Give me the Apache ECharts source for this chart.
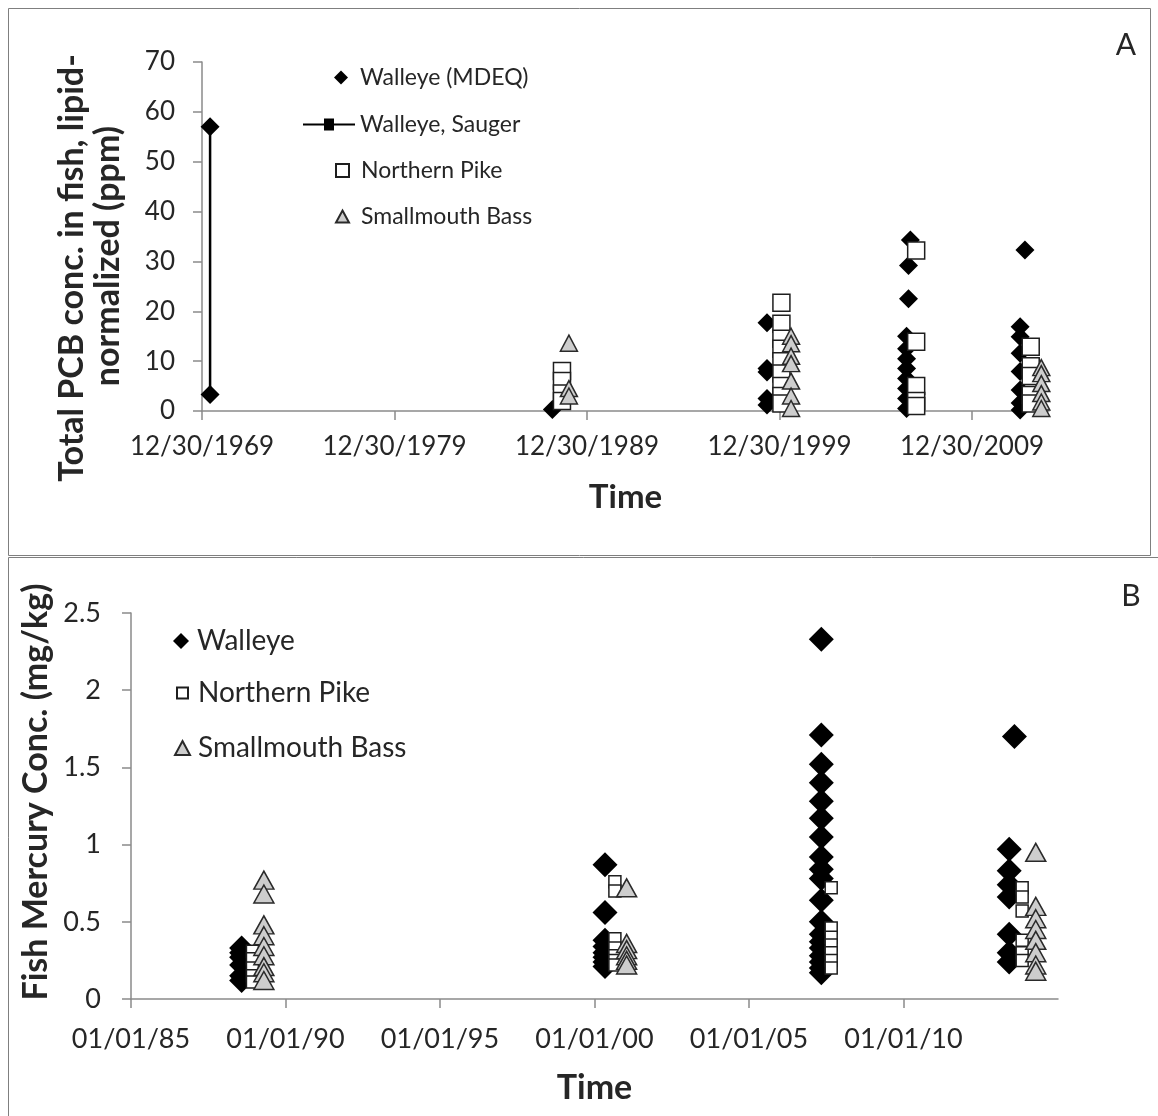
<!DOCTYPE html>
<html><head><meta charset="utf-8">
<script src="https://cdn.jsdelivr.net/npm/echarts@6/dist/echarts.min.js"></script>
<style>html,body{margin:0;padding:0;background:#fff}#c{width:1158px;height:1116px}</style>
</head><body><div id="c"></div>
<script>
// ---------- Panel A: total PCB (lipid-normalized, ppm) ----------
const pcbXTicks = [1970, 1980, 1990, 2000, 2010];
const pcbWalleyeMDEQ = [
  [1988.2, 0.3],
  [1999.35, 17.7], [1999.35, 8.5], [1999.35, 7.8], [1999.35, 2.5], [1999.35, 1.2],
  [2006.8, 34.3], [2006.7, 29.2], [2006.7, 22.5], [2006.6, 15.0], [2006.6, 12.5], [2006.6, 10.5],
  [2006.6, 8.5], [2006.6, 6.5], [2006.6, 4.5], [2006.6, 2.5], [2006.6, 0.5],
  [2012.75, 32.3], [2012.5, 16.9], [2012.5, 14.9], [2012.5, 11.6], [2012.5, 7.9], [2012.5, 4.2], [2012.5, 1.6], [2012.5, 0.2]
];
const pcbWalleyeSauger = [[1970.42, 57.0], [1970.42, 3.3]];
const pcbNorthernPike = [
  [1988.7, 8.0], [1988.7, 6.0], [1988.7, 3.5], [1988.7, 2.0],
  [2000.1, 21.7], [2000.1, 17.5], [2000.1, 14.5], [2000.1, 12.5], [2000.1, 10.0], [2000.1, 7.5], [2000.1, 5.0], [2000.1, 3.0], [2000.1, 1.5],
  [2007.1, 32.2], [2007.1, 13.9], [2007.1, 5.0], [2007.1, 2.0], [2007.1, 1.0],
  [2013.05, 12.9], [2013.05, 9.0], [2013.05, 7.0], [2013.05, 3.2], [2013.05, 1.5]
];
const pcbSmallmouthBass = [
  [1989.06, 13.6], [1989.06, 4.5], [1989.06, 3.0],
  [2000.6, 15.0], [2000.6, 13.5], [2000.6, 11.0], [2000.6, 9.5], [2000.6, 6.0], [2000.6, 3.0], [2000.6, 0.5],
  [2013.6, 8.7], [2013.6, 7.5], [2013.6, 5.5], [2013.6, 3.5], [2013.6, 1.8], [2013.6, 0.5]
];

// ---------- Panel B: fish mercury (mg/kg) ----------
const hgXTicks = [1985, 1990, 1995, 2000, 2005, 2010];
const hgWalleye = [
  [1988.58, 0.33], [1988.58, 0.30], [1988.58, 0.27], [1988.58, 0.22], [1988.58, 0.15], [1988.58, 0.12],
  [2000.34, 0.87], [2000.34, 0.56], [2000.34, 0.38], [2000.34, 0.34], [2000.34, 0.30], [2000.34, 0.27], [2000.34, 0.24], [2000.34, 0.21],
  [2007.34, 2.33], [2007.34, 1.71], [2007.34, 1.52], [2007.34, 1.40], [2007.34, 1.28], [2007.34, 1.17], [2007.34, 1.05],
  [2007.34, 0.92], [2007.34, 0.84], [2007.34, 0.78], [2007.34, 0.64], [2007.34, 0.50], [2007.34, 0.42], [2007.34, 0.37],
  [2007.34, 0.33], [2007.34, 0.28], [2007.34, 0.24], [2007.34, 0.20], [2007.34, 0.17],
  [2013.59, 1.70], [2013.42, 0.97], [2013.42, 0.83], [2013.42, 0.74], [2013.42, 0.66], [2013.42, 0.42], [2013.42, 0.30], [2013.42, 0.24]
];
const hgNorthernPike = [
  [1988.93, 0.31], [1988.93, 0.26], [1988.93, 0.20], [1988.93, 0.15], [1988.93, 0.11],
  [2000.66, 0.76], [2000.66, 0.70], [2000.66, 0.39], [2000.66, 0.33], [2000.66, 0.28], [2000.66, 0.25], [2000.66, 0.22],
  [2007.66, 0.72], [2007.66, 0.46], [2007.66, 0.40], [2007.66, 0.35], [2007.66, 0.30], [2007.66, 0.25], [2007.66, 0.20],
  [2013.84, 0.72], [2013.84, 0.66], [2013.84, 0.57], [2013.84, 0.38], [2013.84, 0.30], [2013.84, 0.25]
];
const hgSmallmouthBass = [
  [1989.3, 0.77], [1989.3, 0.68], [1989.3, 0.48], [1989.3, 0.41], [1989.3, 0.34], [1989.3, 0.28], [1989.3, 0.21], [1989.3, 0.17], [1989.3, 0.12],
  [2001.04, 0.72], [2001.04, 0.36], [2001.04, 0.32], [2001.04, 0.28], [2001.04, 0.25], [2001.04, 0.22],
  [2014.28, 0.95], [2014.28, 0.60], [2014.28, 0.52], [2014.28, 0.45], [2014.28, 0.38], [2014.28, 0.30], [2014.28, 0.22], [2014.28, 0.18]
];

const FONT = 'Lato';
const TXT = '#262626';
const AX = '#8a8a8a';

const chart = echarts.init(document.getElementById('c'));

function axisCommon() {
  return {
    axisLine: { show: true, onZero: false, lineStyle: { color: AX, width: 1.5 } },
    axisTick: { show: true, inside: false, length: 9, lineStyle: { color: AX, width: 1.5 } },
    splitLine: { show: false }
  };
}

const diamondBlack = { color: '#000', opacity: 1 };
const squareStyle = { color: '#fff', borderColor: '#1e1e1e', borderWidth: 1.5, opacity: 1 };
const triStyle = { color: '#cdcdcd', borderColor: '#2a2a2a', borderWidth: 1.5, opacity: 1 };
const lineIcon = 'path://M0,5H21V0H31V5H52V7H31V12H21V7H0Z';

function leg(name, left, top, w, h, fs, padLeft, icon) {
  const d = { name: name };
  if (icon) d.icon = icon;
  return {
    data: [d], left: left, top: top, padding: 0, itemWidth: w, itemHeight: h,
    selectedMode: false,
    textStyle: { fontFamily: FONT, fontSize: fs, color: TXT, padding: [0, 0, 0, padLeft] }
  };
}

const option = {
  animation: false,
  backgroundColor: '#fff',
  textStyle: { fontFamily: FONT },
  grid: [
    { left: 202, top: 62, width: 847, height: 349 },
    { left: 131, top: 613, width: 927, height: 386 }
  ],
  xAxis: [
    Object.assign(axisCommon(), {
      type: 'value', gridIndex: 0, min: 1970, max: 2014,
      axisTick: { show: true, length: 9, customValues: pcbXTicks, lineStyle: { color: AX, width: 1.5 } },
      axisLabel: { customValues: pcbXTicks, fontSize: 26, color: TXT, fontFamily: FONT, margin: 23,
        formatter: v => '12/30/' + (v - 1) },
      name: 'Time', nameLocation: 'middle', nameGap: 70,
      nameTextStyle: { fontSize: 33, fontWeight: 'bold', color: TXT, fontFamily: FONT }
    }),
    Object.assign(axisCommon(), {
      type: 'value', gridIndex: 1, min: 1985, max: 2015, interval: 5,
      axisTick: { show: true, length: 9, customValues: hgXTicks, lineStyle: { color: AX, width: 1.5 } },
      axisLabel: { customValues: hgXTicks, fontSize: 27, color: TXT, fontFamily: FONT, margin: 27,
        formatter: v => '01/01/' + String(v % 100).padStart(2, '0') },
      name: 'Time', nameLocation: 'middle', nameGap: 72,
      nameTextStyle: { fontSize: 34, fontWeight: 'bold', color: TXT, fontFamily: FONT }
    })
  ],
  yAxis: [
    Object.assign(axisCommon(), {
      type: 'value', gridIndex: 0, min: 0, max: 70, interval: 10,
      axisLabel: { fontSize: 26, color: TXT, fontFamily: FONT, margin: 27 }
    }),
    Object.assign(axisCommon(), {
      type: 'value', gridIndex: 1, min: 0, max: 2.5, interval: 0.5,
      axisLabel: { fontSize: 27, color: TXT, fontFamily: FONT, margin: 30 }
    })
  ],
  legend: [
    leg('Walleye (MDEQ)', 334, 66, 14, 14, 23, 7),
    leg('Walleye, Sauger', 303, 113, 52, 12, 23, 0, lineIcon),
    leg('Northern Pike', 335, 159, 13, 13, 23, 7),
    leg('Smallmouth Bass', 335, 205, 13, 12, 23, 7),
    leg('Walleye', 173, 627, 16, 16, 28, 3),
    leg('Northern Pike ', 176, 679, 11, 11, 28, 5),
    leg('Smallmouth Bass ', 174, 734, 15, 14, 28, 3)
  ],
  series: [
    { name: 'Walleye (MDEQ)', type: 'scatter', xAxisIndex: 0, yAxisIndex: 0, data: pcbWalleyeMDEQ,
      symbol: 'diamond', symbolSize: 19, itemStyle: diamondBlack },
    { name: 'Walleye, Sauger', type: 'line', xAxisIndex: 0, yAxisIndex: 0, data: pcbWalleyeSauger,
      symbol: 'diamond', symbolSize: 19, showAllSymbol: true,
      lineStyle: { color: '#000', width: 2.5 }, itemStyle: { color: '#000', opacity: 1 } },
    { name: 'Northern Pike', type: 'scatter', xAxisIndex: 0, yAxisIndex: 0, data: pcbNorthernPike,
      symbol: 'rect', symbolSize: 17, itemStyle: squareStyle },
    { name: 'Smallmouth Bass', type: 'scatter', xAxisIndex: 0, yAxisIndex: 0, data: pcbSmallmouthBass,
      symbol: 'triangle', symbolSize: [17, 16], itemStyle: triStyle },
    { name: 'Walleye', type: 'scatter', xAxisIndex: 1, yAxisIndex: 1, data: hgWalleye,
      symbol: 'diamond', symbolSize: 25, itemStyle: diamondBlack },
    { name: 'Northern Pike ', type: 'scatter', xAxisIndex: 1, yAxisIndex: 1, data: hgNorthernPike,
      symbol: 'rect', symbolSize: 12, itemStyle: squareStyle },
    { name: 'Smallmouth Bass ', type: 'scatter', xAxisIndex: 1, yAxisIndex: 1, data: hgSmallmouthBass,
      symbol: 'triangle', symbolSize: [20, 18], itemStyle: triStyle }
  ],
  graphic: [
    { type: 'rect', shape: { x: 8.5, y: 8.5, width: 1142, height: 547 }, silent: true,
      style: { fill: null, stroke: '#7f7f7f', lineWidth: 1 } },
    { type: 'rect', shape: { x: 8.5, y: 557.5, width: 1200, height: 600 }, silent: true,
      style: { fill: null, stroke: '#7f7f7f', lineWidth: 1 } },
    { type: 'text', x: 1126, y: 45, silent: true,
      style: { text: 'A', font: '30px Lato', fill: TXT, textAlign: 'center', textVerticalAlign: 'middle' } },
    { type: 'text', x: 1131, y: 596, silent: true,
      style: { text: 'B', font: '30px Lato', fill: TXT, textAlign: 'center', textVerticalAlign: 'middle' } },
    { type: 'text', x: 72, y: 268, rotation: Math.PI / 2, silent: true,
      style: { text: 'Total PCB conc. in fish, lipid-', font: 'bold 34px Lato', fill: TXT, textAlign: 'center', textVerticalAlign: 'middle' } },
    { type: 'text', x: 108, y: 256, rotation: Math.PI / 2, silent: true,
      style: { text: 'normalized (ppm)', font: 'bold 34px Lato', fill: TXT, textAlign: 'center', textVerticalAlign: 'middle' } },
    { type: 'text', x: 36, y: 792, rotation: Math.PI / 2, silent: true,
      style: { text: 'Fish Mercury Conc. (mg/kg)', font: 'bold 34px Lato', fill: TXT, textAlign: 'center', textVerticalAlign: 'middle' } }
  ]
};
chart.setOption(option);
</script>
</body></html>
